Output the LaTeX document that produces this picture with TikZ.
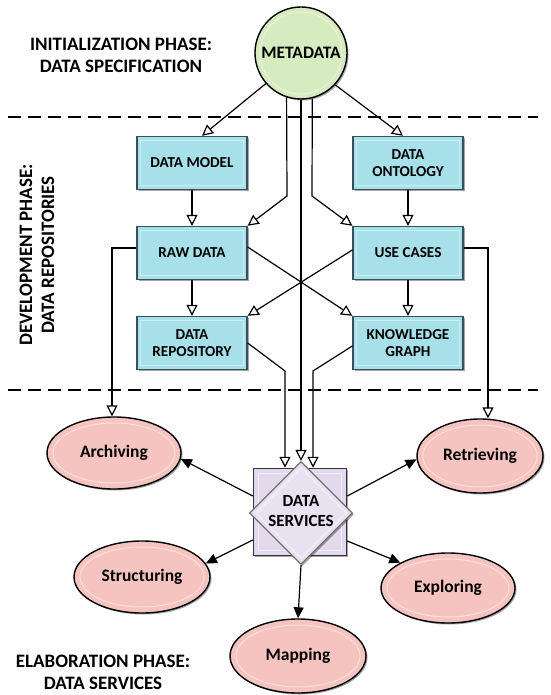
\documentclass[tikz,border=0pt]{standalone}
\usepackage{fontspec}
\setmainfont{Carlito}
\usetikzlibrary{arrows.meta,shapes.geometric,shadows}
\definecolor{boxfill}{RGB}{168,224,234}
\definecolor{boxline}{RGB}{55,80,90}
\definecolor{boxinner}{RGB}{205,240,246}
\definecolor{metafill}{RGB}{214,235,192}
\definecolor{metainner}{RGB}{234,245,220}
\definecolor{ellfill}{RGB}{245,196,192}
\definecolor{ellinner}{RGB}{252,224,220}
\definecolor{dsfill}{RGB}{226,218,236}
\definecolor{dsinner}{RGB}{244,240,250}
\definecolor{dsline}{RGB}{55,50,65}
\begin{document}
\begin{tikzpicture}[x=1pt,y=-1pt,
  shad/.style={drop shadow={shadow xshift=1.5pt,shadow yshift=-1.5pt,opacity=.35,fill=black}},
  box/.style={rectangle,draw=boxline,line width=1.4pt,fill=boxfill,minimum width=110pt,minimum height=53pt,inner sep=2pt,align=center,font=\bfseries\fontsize{15.2}{17.5}\selectfont,shad},
  boxin/.style={draw=boxinner,line width=1pt},
  ell/.style={ellipse,draw=black,line width=1.4pt,fill=ellfill,inner sep=0pt,font=\bfseries\fontsize{17.5}{20}\selectfont,shad},
  ellin/.style={draw=ellinner,line width=1pt},
  phase/.style={align=center,font=\bfseries\fontsize{19}{22}\selectfont},
  conn/.style={line width=1.2pt,draw=black},
  oarr/.style={conn,-{Triangle[open,length=11pt,width=11pt,fill=white]}},
  farr/.style={conn,-{Triangle[length=11pt,width=10pt]}},
  sep/.style={line width=1.2pt,dash pattern=on 13pt off 7pt}
]
\useasboundingbox (0,0) rectangle (550,695);

% phase labels
\node[phase] (p1) at (121,55) {INITIALIZATION PHASE:\\DATA SPECIFICATION};
\node[phase,rotate=90] (p2) at (37,255) {DEVELOPMENT PHASE:\\DATA REPOSITORIES};
\node[phase] (p3) at (103,672) {ELABORATION PHASE:\\DATA SERVICES};

% separators
\coordinate (s1a) at (8,117); \coordinate (s1b) at (538,117);
\coordinate (s2a) at (8,390); \coordinate (s2b) at (538,390);
\draw[sep] (s1a) -- (s1b);
\draw[sep] (s2a) -- (s2b);

% metadata
\node[circle,draw=black,line width=1.4pt,fill=metafill,minimum size=92pt,inner sep=0pt,font=\bfseries\fontsize{17.5}{20}\selectfont,shad] (md) at (301,53) {METADATA};
\draw[draw=metainner,line width=1pt] (md.center) circle[radius=41pt];

% boxes
\node[box] (dm) at (192,163) {DATA MODEL};
\node[box] (do) at (408,163) {DATA\\ONTOLOGY};
\node[box] (rd) at (192,253) {RAW DATA};
\node[box] (uc) at (408,253) {USE CASES};
\node[box] (dr) at (192,343) {DATA\\REPOSITORY};
\node[box] (kg) at (408,343) {KNOWLEDGE\\GRAPH};
\foreach \n in {dm,do,rd,uc,dr,kg}
  \draw[boxin] ([shift={(4.5pt,-4.5pt)}]\n.north west) rectangle ([shift={(-4.5pt,4.5pt)}]\n.south east);

% data services
\node[rectangle,draw=dsline,line width=1.5pt,fill=dsfill,minimum width=93pt,minimum height=87pt,shad] (dsq) at (300,512) {};
\draw[draw=dsinner,line width=1pt] ([shift={(6pt,-6pt)}]dsq.north west) rectangle ([shift={(-6pt,6pt)}]dsq.south east);
\node[diamond,draw=black!55,line width=1.2pt,fill=dsfill!80!white,minimum width=103pt,minimum height=103pt,inner sep=0pt,shad] (ds) at (301,513) {};
\draw[draw=dsinner,line width=1.2pt] ([yshift=-7pt]ds.north) -- ([xshift=-7pt]ds.east) -- ([yshift=7pt]ds.south) -- ([xshift=7pt]ds.west) -- cycle;
\node[align=center,font=\bfseries\fontsize{17}{20}\selectfont] (dst) at (301,511) {DATA\\SERVICES};

% ellipses
\node[ell,minimum width=134pt,minimum height=72pt] (arch) at (114,453) {Archiving};
\node[ell,minimum width=126pt,minimum height=74pt] (retr) at (480,456) {Retrieving};
\node[ell,minimum width=136pt,minimum height=72pt] (struc) at (142,577) {Structuring};
\node[ell,minimum width=134pt,minimum height=70pt] (expl) at (448,588) {Exploring};
\node[ell,minimum width=136pt,minimum height=74pt] (mapp) at (298,656) {Mapping};
\draw[ellin] (arch.center) ellipse[x radius=61pt,y radius=30pt];
\draw[ellin] (retr.center) ellipse[x radius=57pt,y radius=31pt];
\draw[ellin] (struc.center) ellipse[x radius=62pt,y radius=30pt];
\draw[ellin] (expl.center) ellipse[x radius=61pt,y radius=29pt];
\draw[ellin] (mapp.center) ellipse[x radius=62pt,y radius=31pt];

% bend points
\coordinate (b1) at (287,196);
\coordinate (b2) at (312,196);
\coordinate (b3) at (285,371);
\coordinate (b4) at (313,371);

% connectors from metadata
\draw[oarr] (md.221) -- ([xshift=10pt]dm.north);
\draw[oarr] (md.-43) -- ([xshift=-5pt]do.north);
\draw[oarr] (md.-108) -- (b1) -- (rd.north east);
\draw[oarr] (md.south) -- (ds.north);
\draw[oarr] (md.-76) -- (b2) -- (uc.north west);

% development phase connectors
\draw[oarr] (dm.south) -- (rd.north);
\draw[oarr] (do.south) -- (uc.north);
\draw[oarr] (rd.south) -- (dr.north);
\draw[oarr] (uc.south) -- (kg.north);
\draw[oarr] ([yshift=6pt]rd.east) -- (kg.north west);
\draw[oarr] ([yshift=3pt]uc.west) -- (dr.north east);
\draw[oarr] ([yshift=5pt]rd.west) -| ([xshift=-2pt]arch.north);
\draw[oarr] ([yshift=5pt]uc.east) -| ([xshift=8pt]retr.north);
\draw[oarr] (dr.east) -- (b3) -- ([xshift=-15pt]dsq.north);
\draw[oarr] ([yshift=-3pt]kg.west) -- (b4) -- ([xshift=13pt]dsq.north);

% data services outputs
\draw[farr] ([yshift=16pt]dsq.west) -- (arch.-5);
\draw[farr] ([yshift=16pt]dsq.east) -- (retr.183);
\draw[farr] ([yshift=-28pt]dsq.west) -- (struc.12);
\draw[farr] ([yshift=-29pt]dsq.east) -- (expl.152);
\draw[farr] (ds.south) -- (mapp.north);
\end{tikzpicture}
\end{document}
